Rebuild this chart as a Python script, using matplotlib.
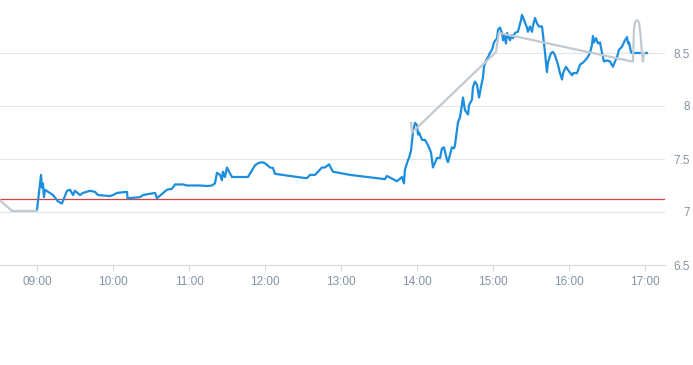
import numpy as np
import matplotlib
matplotlib.use("Agg")
import matplotlib.pyplot as plt

# ---- data (minutes since midnight, price) ----
blue_minutes = [540, 543.2, 543.9, 544.7, 545.5, 546.3, 552.6, 556.6, 559.7, 563.7, 566.1, 568.4,
                570, 574, 576.3, 581.8, 585.8, 588.2, 597.6, 600, 603.2, 611.1, 611.5, 621.3,
                623.7, 633.2, 634.7, 638.7, 642.6, 646.6, 649, 655.3, 658.4, 668.7, 674.2, 678.2,
                680.5, 682.1, 684.5, 686, 686.8, 688.4, 690, 691.6, 694, 706.6, 712.1, 714.5,
                717.6, 720, 724, 726.3, 727.9, 751.6, 753.2, 755.5, 759.5, 765, 767.4, 770.5,
                773.7, 787.1, 814.7, 816.3, 824.2, 828.2, 829.7, 830.5, 832.9, 833.7, 835.3,
                836.8, 838.4, 840, 840.8, 841.6, 844, 846.3, 848.7, 851.1, 852.6, 855.8, 858.2,
                859.7, 861.3, 863.7, 864.5, 867.6, 869.2, 870, 872.4, 873.9, 875.5, 876.3, 877.9,
                880.3, 881.1, 883.4, 884.2, 885.8, 887.4, 889, 890.5, 892.1, 892.9, 894.5, 896.1,
                897.6, 899.2, 900.8, 903.2, 904, 905.5, 907.1, 907.9, 908.7, 910.3, 911.1, 913.4,
                915, 915.8, 917.4, 919.7, 922.1, 922.9, 924.5, 926.8, 927.6, 929.2, 930.8, 931.6,
                933.2, 934.7, 936.3, 938.7, 939.5, 941.1, 942.6, 943.4, 945.8, 947.4, 948.9,
                950.5, 951.3, 952.9, 954.5, 955.3, 957.6, 959.2, 962.4, 963.2, 966.3, 968.7,
                971.1, 972.6, 974.2, 976.6, 978.2, 978.9, 979.7, 981.3, 982.9, 984.5, 986.1,
                987.6, 990, 992.4, 994.7, 996.3, 997.9, 999.5, 1001.8, 1004.2, 1005.8, 1006.6,
                1007.4, 1008.9, 1009.7, 1021.6]
blue_values = [7.02, 7.35, 7.23, 7.27, 7.14, 7.21, 7.16, 7.10, 7.08, 7.20, 7.21, 7.16,
               7.20, 7.16, 7.18, 7.20, 7.19, 7.16, 7.15, 7.16, 7.18, 7.19, 7.13, 7.14,
               7.16, 7.18, 7.13, 7.17, 7.21, 7.22, 7.26, 7.26, 7.25, 7.25, 7.245, 7.25,
               7.27, 7.37, 7.35, 7.30, 7.38, 7.33, 7.42, 7.38, 7.33, 7.33, 7.44, 7.46,
               7.47, 7.46, 7.42, 7.415, 7.36, 7.32, 7.32, 7.35, 7.35, 7.42, 7.42, 7.45,
               7.38, 7.35, 7.31, 7.34, 7.29, 7.33, 7.27, 7.40, 7.49, 7.51, 7.58,
               7.75, 7.84, 7.82, 7.73, 7.75, 7.68, 7.68, 7.63, 7.56, 7.42, 7.51, 7.51,
               7.60, 7.61, 7.49, 7.47, 7.61, 7.60, 7.63, 7.85, 7.89, 8.01, 8.08, 7.96,
               7.92, 8.01, 8.06, 8.18, 8.23, 8.20, 8.08, 8.18, 8.27, 8.37, 8.43, 8.46,
               8.50, 8.53, 8.60, 8.64, 8.72, 8.74, 8.69, 8.62, 8.67, 8.59, 8.69, 8.62,
               8.67, 8.64, 8.69, 8.70, 8.81, 8.86, 8.81, 8.74, 8.70, 8.75, 8.70, 8.76,
               8.83, 8.78, 8.75, 8.75, 8.67, 8.50, 8.32, 8.41, 8.50, 8.51, 8.48,
               8.42, 8.39, 8.31, 8.25, 8.31, 8.37, 8.34, 8.29, 8.31, 8.31, 8.39,
               8.41, 8.43, 8.45, 8.50, 8.58, 8.66, 8.60, 8.64, 8.59, 8.60, 8.50,
               8.42, 8.43, 8.42, 8.37, 8.42, 8.46, 8.53, 8.56, 8.62, 8.65, 8.59,
               8.60, 8.51, 8.50, 8.50]

gray_minutes = [510.8, 520.3, 540, np.nan, 835.3, 836.1, 902.4, 904.7, 1009.7, 1010.5, 1011.3,
                1012.1, 1013.7, 1015.3, 1016.5, 1017.7, 1018.4, 1019.2]
gray_values = [7.11, 7.01, 7.01, np.nan, 7.84, 7.75, 8.51, 8.69, 8.42, 8.42, 8.72,
               8.79, 8.81, 8.79, 8.67, 8.48, 8.42, 8.50]

ref_level = 7.12
x_ticks = [540, 600, 660, 720, 780, 840, 900, 960, 1020]
x_labels = ["09:00", "10:00", "11:00", "12:00", "13:00", "14:00", "15:00", "16:00", "17:00"]
y_ticks = [6.5, 7, 7.5, 8, 8.5]
y_labels = ["6.5", "7", "7.5", "8", "8.5"]

# ---- figure ----
plt.rcParams['font.family'] = ['Liberation Sans Narrow', 'Liberation Sans', 'DejaVu Sans']
fig = plt.figure(figsize=(6.93, 3.65), dpi=100)
ax = fig.add_axes([0, 100 / 365, 665 / 693, 265 / 365])

ax.set_xlim(510.8, 1035.8)
ax.set_ylim(6.5, 9.0)

for yv in y_ticks:
    ax.axhline(yv, color='#e3e6e8', lw=0.8, zorder=1)

ax.axhline(ref_level, color='#d0433f', lw=0.9, zorder=2)
ax.plot(blue_minutes, blue_values, color='#1b8ede', lw=1.6, zorder=3,
        solid_joinstyle='round')
ax.plot(gray_minutes, gray_values, color='#c2c9d0', lw=1.6, zorder=4,
        solid_joinstyle='round')

for s in ['top', 'left', 'right']:
    ax.spines[s].set_visible(False)
ax.spines['bottom'].set_color('#d5dade')
ax.spines['bottom'].set_linewidth(0.8)

ax.set_xticks(x_ticks)
ax.set_xticklabels(x_labels)
ax.set_yticks(y_ticks)
ax.set_yticklabels(y_labels)
ax.yaxis.tick_right()
ax.tick_params(axis='x', colors='#d5dade', length=4, width=0.8, labelcolor='#8493a3',
               labelsize=8.5, pad=4)
ax.tick_params(axis='y', length=0, labelcolor='#8493a3', labelsize=8.5, pad=18)
for lab in ax.get_yticklabels():
    lab.set_horizontalalignment('right')

fig.savefig('out.png', dpi=100, facecolor='white')
